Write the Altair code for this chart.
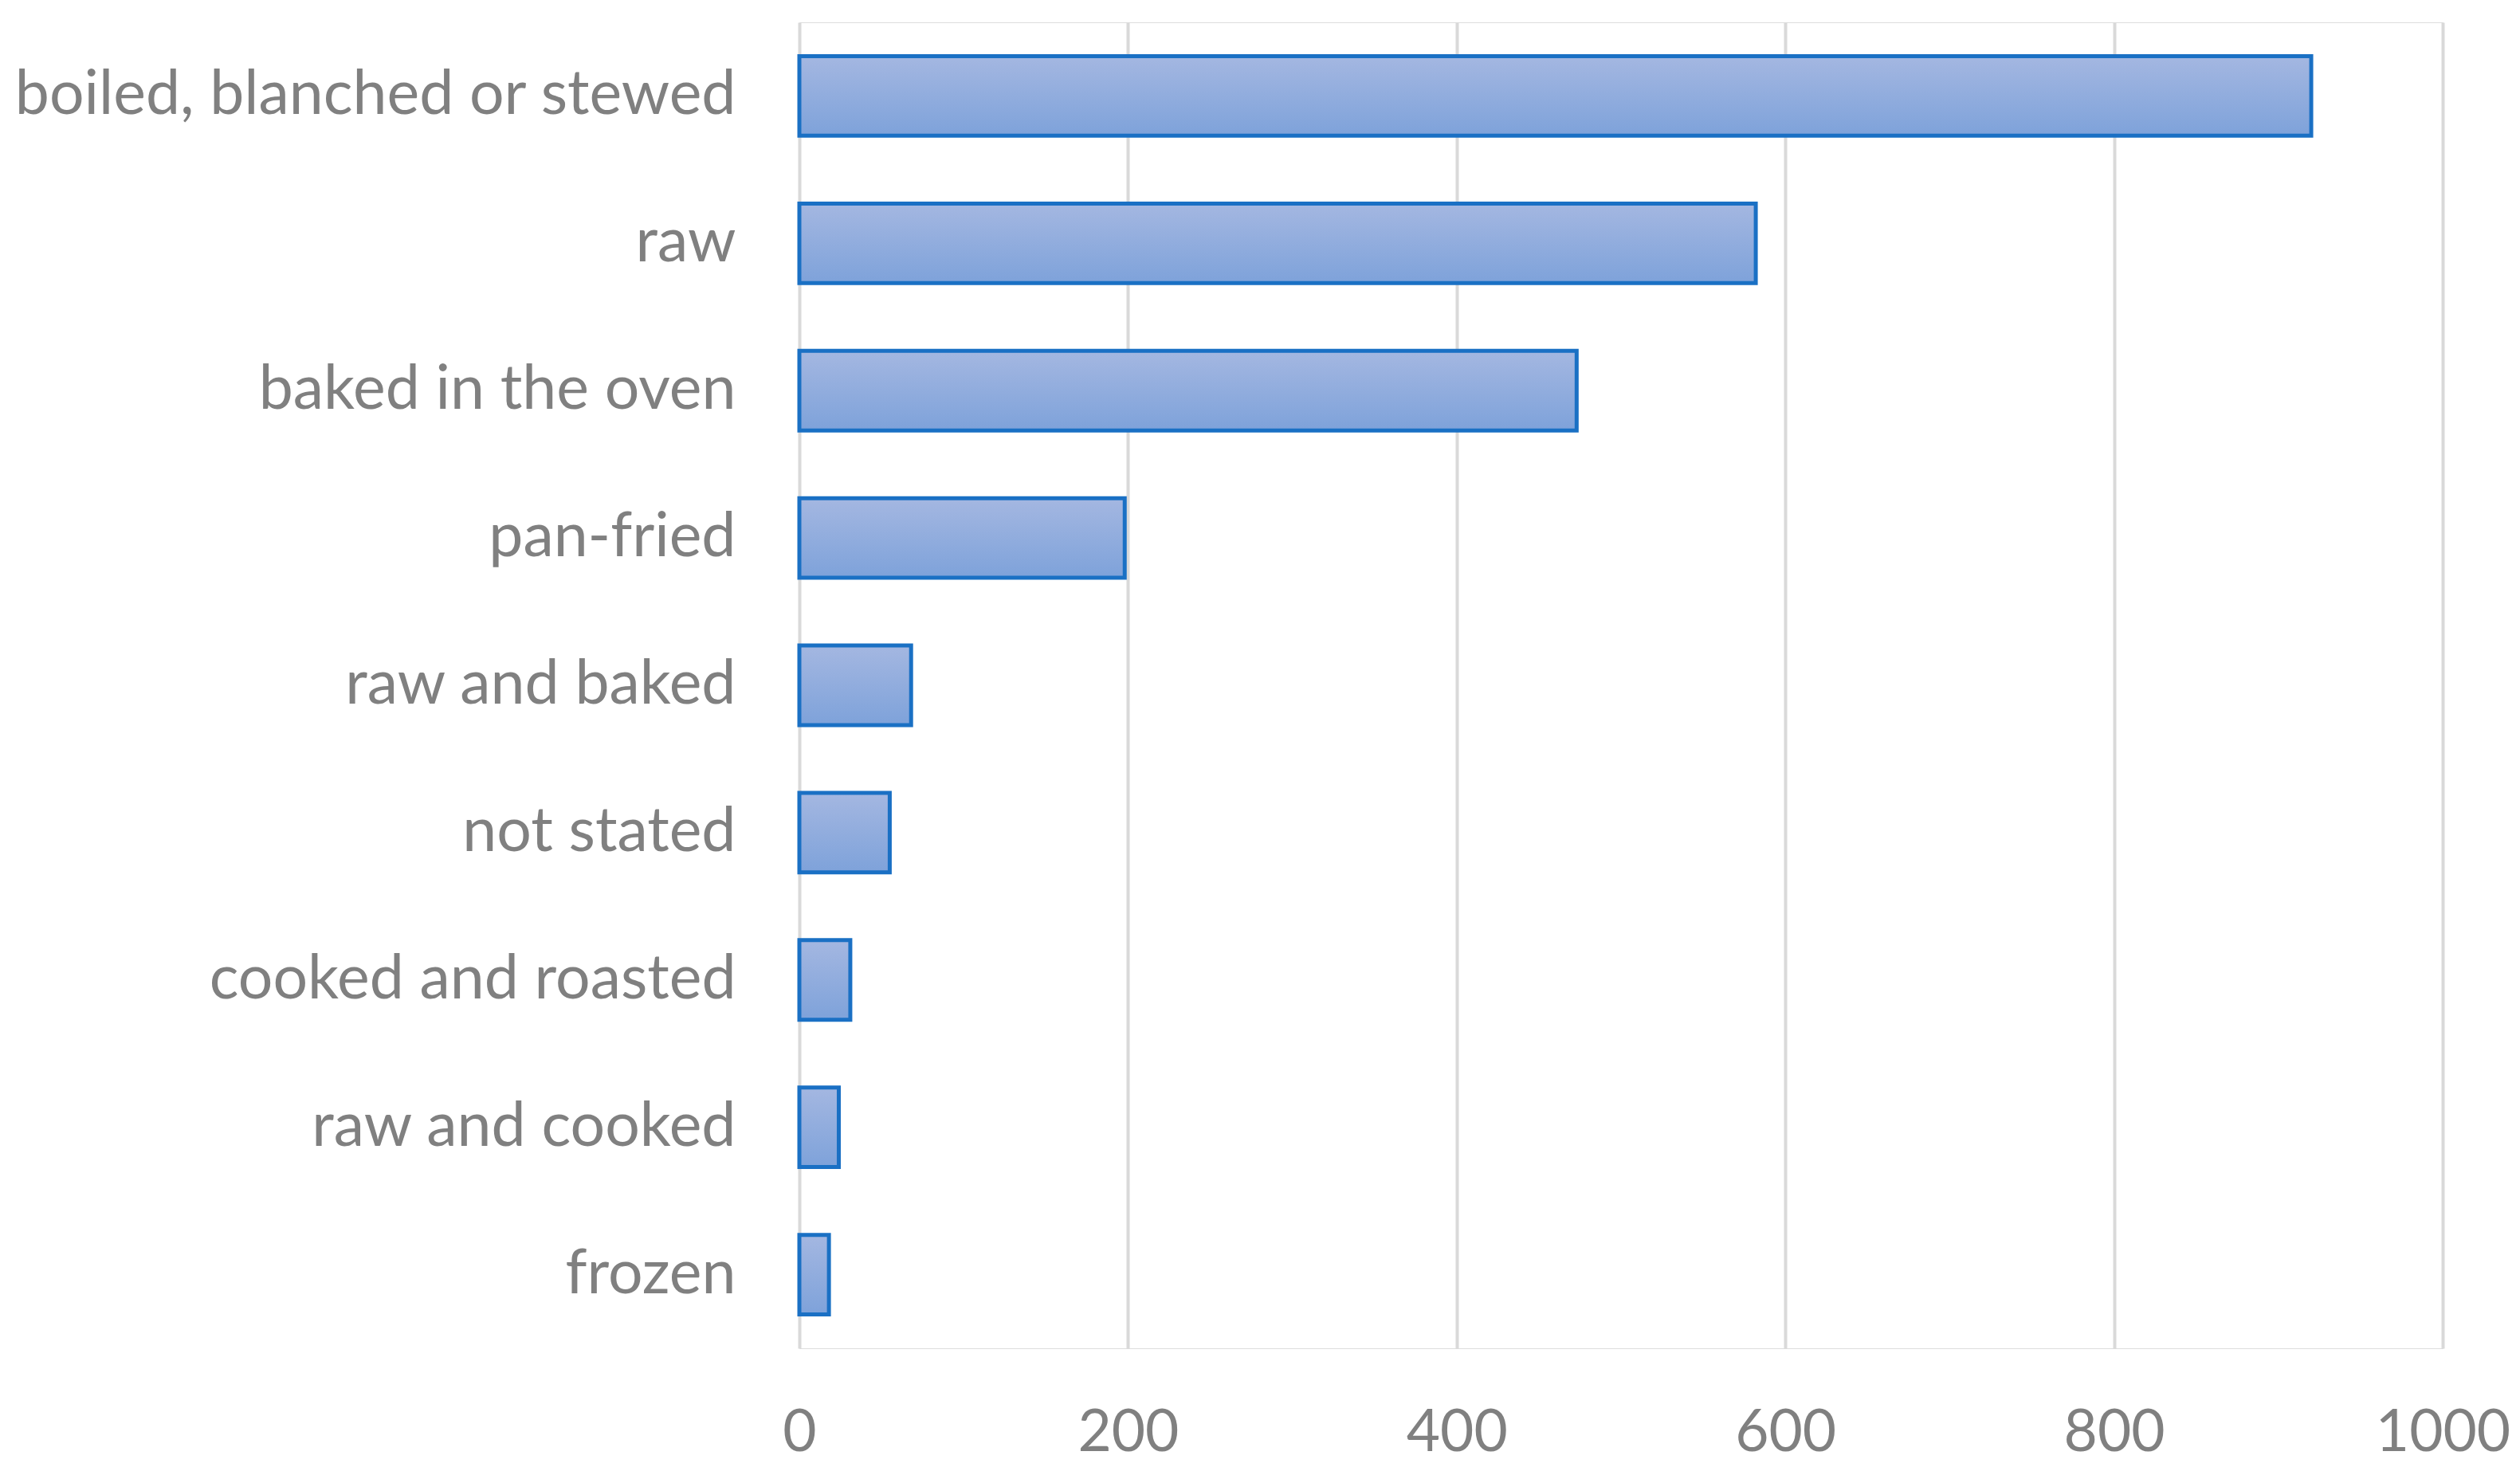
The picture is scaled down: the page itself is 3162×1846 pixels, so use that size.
import altair as alt
import pandas as pd

categories = [
    "boiled, blanched or stewed",
    "raw",
    "baked in the oven",
    "pan-fried",
    "raw and baked",
    "not stated",
    "cooked and roasted",
    "raw and cooked",
    "frozen",
]
values = [920, 582, 473, 198, 68, 55, 31, 24, 18]
x_ticks = [0, 200, 400, 600, 800, 1000]

df = pd.DataFrame({"category": categories, "value": values})

grad = alt.LinearGradient(
    gradient="linear",
    stops=[
        alt.GradientStop(color="#a4b7e1", offset=0),
        alt.GradientStop(color="#7ea2da", offset=1),
    ],
    x1=0, x2=0, y1=0, y2=1,
)

FONT = "Lato"

chart = (
    alt.Chart(df)
    .mark_bar(fill=grad, stroke="#1a70c4", strokeWidth=5)
    .encode(
        x=alt.X(
            "value:Q",
            scale=alt.Scale(domain=[0, 1000], nice=False),
            axis=alt.Axis(
                values=x_ticks,
                format="d",
                title=None,
                domain=False,
                ticks=False,
                grid=True,
                gridColor="#d9d9d9",
                gridWidth=4,
                labelFont=FONT,
                labelFontSize=73,
                labelColor="#808080",
                labelPadding=70,
                labelFlush=False,
                labelLimit=400,
            ),
        ),
        y=alt.Y(
            "category:N",
            sort=categories,
            scale=alt.Scale(paddingInner=0.46, paddingOuter=0.23),
            axis=alt.Axis(
                title=None,
                domain=False,
                ticks=False,
                grid=False,
                labelFont=FONT,
                labelFontSize=77,
                labelColor="#808080",
                labelPadding=80,
                labelLimit=1000,
            ),
        ),
    )
    .properties(
        width=2062,
        height=1664,
        padding={"left": 995, "top": 20, "right": 88, "bottom": 150},
        autosize=alt.AutoSizeParams(type="none"),
    )
    .configure_view(stroke="transparent", strokeWidth=0, strokeOpacity=0)
    .configure_axis(domain=False)
    .configure(background="white")
)

chart.save("out.html", embed_options={"renderer": "svg", "actions": False})
